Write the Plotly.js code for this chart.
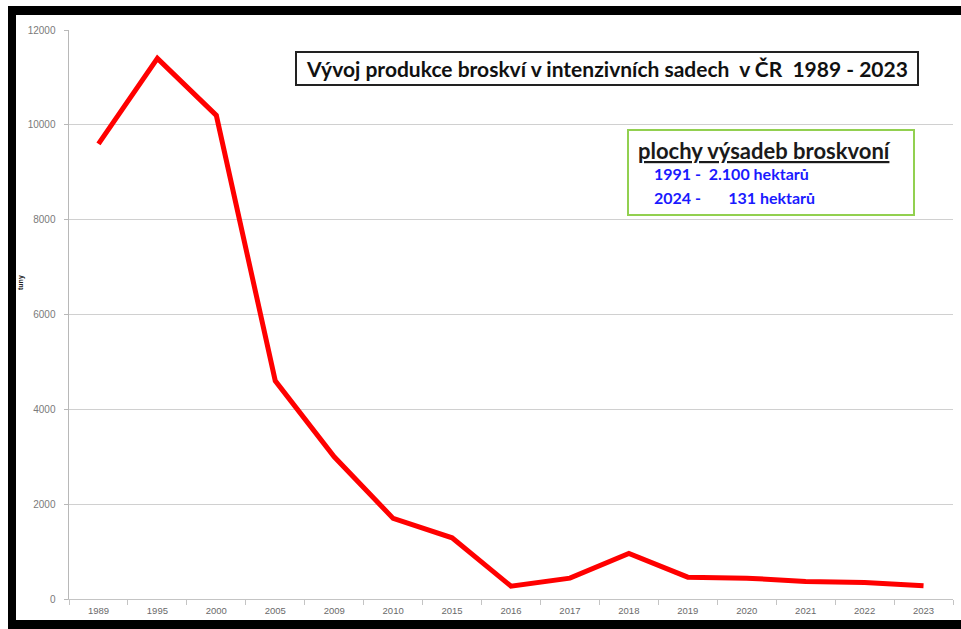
<!DOCTYPE html>
<html>
<head>
<meta charset="utf-8">
<script src="https://cdn.plot.ly/plotly-3.0.1.min.js"></script>
<style>
  html, body { margin: 0; padding: 0; background: #fff; }
  #chart { width: 961px; height: 629px; }
</style>
</head>
<body>
<div id="chart"></div>
<script>
// ---- data ----
const years = ['1989','1995','2000','2005','2009','2010','2015','2016','2017','2018','2019','2020','2021','2022','2023'];
const production = [9600, 11400, 10200, 4600, 3000, 1700, 1290, 270, 440, 960, 460, 440, 370, 350, 280];
const yTicks = [0, 2000, 4000, 6000, 8000, 10000, 12000];
const chartTitle = 'Vývoj produkce broskví v intenzivních sadech\u00a0\u00a0v ČR\u00a0\u00a01989 - 2023';
const yTitle = 'tuny';
const boxHeading = 'plochy výsadeb broskvoní';
const boxLines = ['1991 -\u00a0 2.100 hektarů', '2024 -\u00a0\u00a0\u00a0\u00a0\u00a0\u00a0 131 hektarů'];

// ---- pixel -> paper helpers ----
const L = 69, R = 8, T = 30, B = 30, W = 961, H = 629;
const pw = W - L - R, ph = H - T - B;
const px = x => (x - L) / pw;
const py = y => (H - B - y) / ph;

const trace = {
  type: 'scatter', mode: 'lines',
  x: years, y: production,
  line: { color: '#ff0000', width: 5 },
  hoverinfo: 'x+y'
};

const font = 'Lato, "Open Sans", "Liberation Sans", sans-serif';

const shapes = [
  // black frame (top, left, bottom)
  { type: 'rect', xref: 'paper', yref: 'paper', x0: px(8), x1: px(961), y0: py(6), y1: py(15), fillcolor: '#000', line: { width: 0 } },
  { type: 'rect', xref: 'paper', yref: 'paper', x0: px(8), x1: px(16), y0: py(6), y1: py(629), fillcolor: '#000', line: { width: 0 } },
  { type: 'rect', xref: 'paper', yref: 'paper', x0: px(8), x1: px(961), y0: py(620), y1: py(629), fillcolor: '#000', line: { width: 0 } },
  // title box
  { type: 'rect', xref: 'paper', yref: 'paper', x0: px(296), x1: px(918), y0: py(52), y1: py(85), fillcolor: '#fff', line: { color: '#222', width: 2 }, layer: 'above' },
  // info box
  { type: 'rect', xref: 'paper', yref: 'paper', x0: px(628), x1: px(914), y0: py(130), y1: py(215), fillcolor: '#fff', line: { color: '#92d050', width: 2 }, layer: 'above' }
];

const annotations = [
  { xref: 'paper', yref: 'paper', x: px(607), y: py(68.5), xanchor: 'center', yanchor: 'middle', showarrow: false,
    text: '<b>' + chartTitle + '</b>', font: { family: font, size: 21, color: '#111' } },
  { xref: 'paper', yref: 'paper', x: px(21), y: py(283), xanchor: 'center', yanchor: 'middle', showarrow: false, textangle: -90,
    text: '<b>' + yTitle + '</b>', font: { family: '"Liberation Sans", Arial, sans-serif', size: 7, color: '#222' } },
  { xref: 'paper', yref: 'paper', x: px(636), y: py(150), xanchor: 'left', yanchor: 'middle', showarrow: false,
    text: '<b><u>' + boxHeading + '</u></b>', font: { family: font, size: 22, color: '#1a1a1a' } },
  { xref: 'paper', yref: 'paper', x: px(652), y: py(174), xanchor: 'left', yanchor: 'middle', showarrow: false,
    text: '<b>' + boxLines[0] + '</b>', font: { family: font, size: 16, color: '#1a1aff' } },
  { xref: 'paper', yref: 'paper', x: px(652), y: py(197), xanchor: 'left', yanchor: 'middle', showarrow: false,
    text: '<b>' + boxLines[1] + '</b>', font: { family: font, size: 16, color: '#1a1aff' } }
];

const layout = {
  width: W, height: H,
  margin: { l: L, r: R, t: T, b: B, pad: 0 },
  paper_bgcolor: '#fff', plot_bgcolor: '#fff',
  showlegend: false,
  xaxis: {
    type: 'category', range: [-0.5, years.length - 0.5], fixedrange: true,
    showgrid: false, zeroline: false,
    showline: true, linecolor: '#c4c4c4', linewidth: 1,
    ticks: 'outside', tickson: 'boundaries', ticklen: 5, tickcolor: '#c4c4c4', tickwidth: 1,
    tickfont: { family: '"Liberation Sans", Arial, sans-serif', size: 9.5, color: '#6a6a6a' },
    ticklabelstandoff: 3
  },
  yaxis: {
    range: [0, 12000], fixedrange: true,
    tickvals: yTicks, ticktext: yTicks.map(String),
    showgrid: true, gridcolor: '#d0d0d0', gridwidth: 1, zeroline: false,
    showline: true, linecolor: '#b8b8b8', linewidth: 1.5,
    ticks: 'outside', ticklen: 4, tickcolor: '#b8b8b8', tickwidth: 1,
    tickfont: { family: '"Liberation Sans", Arial, sans-serif', size: 10, color: '#7a7a7a' },
    ticklabelstandoff: 6
  },
  shapes: shapes,
  annotations: annotations
};

Plotly.newPlot('chart', [trace], layout, { displayModeBar: false, staticPlot: true });
</script>
</body>
</html>
